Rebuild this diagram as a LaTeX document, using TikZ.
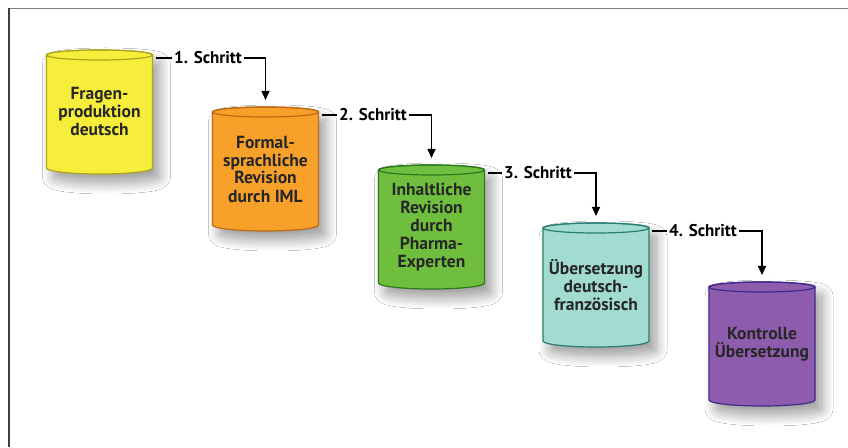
\documentclass[tikz,border=0pt]{standalone}
\usepackage{fontspec}
\setmainfont{PT Sans}
\usetikzlibrary{shadows.blur,arrows.meta}
\definecolor{yelF}{RGB}{246,238,58}
\definecolor{yelD}{RGB}{175,165,30}
\definecolor{oraF}{RGB}{247,160,42}
\definecolor{oraD}{RGB}{190,105,20}
\definecolor{greF}{RGB}{112,190,62}
\definecolor{greD}{RGB}{45,120,30}
\definecolor{teaF}{RGB}{162,220,208}
\definecolor{teaD}{RGB}{40,125,115}
\definecolor{purF}{RGB}{142,92,172}
\definecolor{purD}{RGB}{65,40,140}
\tikzset{
  cyltext/.style={align=center, font=\fontsize{17.5}{18}\selectfont\bfseries, text=black!85, inner sep=0pt},
  steplabel/.style={font=\fontsize{17}{18}\selectfont\bfseries, inner sep=2pt, anchor=west},
  conn/.style={line width=1.5pt, black},
  cylbody/.style={line width=1.2pt, blur shadow={shadow xshift=7pt, shadow yshift=-9pt, shadow blur radius=11pt, shadow blur steps=14, shadow opacity=40}}
}
\newcommand\drawcyl[6]{%
  \path[cylbody, fill=#4, draw=#5] (#2-53,#3) -- (#2-53,#3-113) arc[start angle=180,end angle=360,x radius=53,y radius=6] -- (#2+53,#3) arc[start angle=0,end angle=180,x radius=53,y radius=5] -- cycle;
  \draw[#5, line width=1.2pt] (#2,#3) ellipse[x radius=53,y radius=5];
  \node[cyltext] (#1) at (#2,#3-57) {#6};
  \coordinate (#1r) at (#2+56,#3-3);
  \coordinate (#1a) at (#2,#3+12);
}
\begin{document}
\begin{tikzpicture}[x=1pt,y=1pt]
\useasboundingbox (0,0) rectangle (848,447);
\fill[white] (0,0) rectangle (848,447);
\draw[black!50, line width=1.5pt] (9,438.5) -- (848,438.5);
\draw[black!75, line width=1.5pt] (9,438.5) -- (9,0);

\drawcyl{c1}{99.5}{392}{yelF}{yelD}{Fragen-\\produktion\\deutsch}
\drawcyl{c2}{265.5}{335}{oraF}{oraD}{Formal-\\sprachliche\\Revision\\durch IML}
\drawcyl{c3}{431.5}{277}{greF}{greD}{Inhaltliche\\Revision\\durch\\Pharma-\\Experten}
\drawcyl{c4}{596}{219}{teaF}{teaD}{Übersetzung\\deutsch-\\französisch}
\drawcyl{c5}{762}{160}{purF}{purD}{Kontrolle\\Übersetzung}

\node[steplabel] (s1) at (172,389) {1. Schritt};
\node[steplabel] (s2) at (337,332) {2. Schritt};
\node[steplabel] (s3) at (502,274) {3. Schritt};
\node[steplabel] (s4) at (667,216) {4. Schritt};

\draw[conn] (c1r) -- (s1.west);
\draw[conn] (c2r) -- (s2.west);
\draw[conn] (c3r) -- (s3.west);
\draw[conn] (c4r) -- (s4.west);
\draw[conn, -{Triangle[length=9pt,width=8pt]}] (s1.east) -| (c2a);
\draw[conn, -{Triangle[length=9pt,width=8pt]}] (s2.east) -| (c3a);
\draw[conn, -{Triangle[length=9pt,width=8pt]}] (s3.east) -| (c4a);
\draw[conn, -{Triangle[length=9pt,width=8pt]}] (s4.east) -| (c5a);
\end{tikzpicture}
\end{document}
